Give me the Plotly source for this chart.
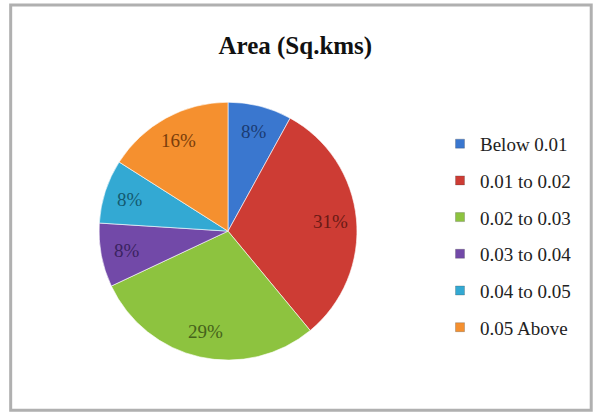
import math
import plotly.graph_objects as go

# Area classes (sq. km) and their share of the total, in percent
categories = ["Below 0.01", "0.01 to 0.02", "0.02 to 0.03", "0.03 to 0.04", "0.04 to 0.05", "0.05 Above"]
shares = [8, 31, 29, 8, 8, 16]

slice_colors = ["#3a77cf", "#cd3c34", "#8dc33f", "#7249a8", "#33a9d3", "#f5902f"]
label_colors = ["#1b3b72", "#6a1a15", "#45621b", "#3a2360", "#145a70", "#7a3d0a"]

serif = "Liberation Serif, Times New Roman, serif"
W, H = 593, 412
pie_dom = dict(x=[0.167, 0.602], y=[0.126, 0.752])

fig = go.Figure()

fig.add_trace(go.Pie(
    labels=categories,
    values=shares,
    sort=False,
    direction="clockwise",
    rotation=0,
    marker=dict(colors=slice_colors, line=dict(color="rgba(255,255,255,0.6)", width=1)),
    textinfo="none",
    showlegend=False,
    hoverinfo="label+percent",
    domain=pie_dom,
))

# Percentage labels placed along each slice's bisector, out towards the rim
cx = sum(pie_dom["x"]) / 2
cy = sum(pie_dom["y"]) / 2
radius_px = min((pie_dom["x"][1] - pie_dom["x"][0]) * W, (pie_dom["y"][1] - pie_dom["y"][0]) * H) / 2
total = sum(shares)
cum = 0
annotations = []
for v, tc in zip(shares, label_colors):
    mid = (cum + v / 2) / total * 2 * math.pi
    cum += v
    r = 0.8 * radius_px
    annotations.append(dict(
        x=cx + r * math.sin(mid) / W, y=cy + r * math.cos(mid) / H,
        xref="paper", yref="paper", showarrow=False,
        text=f"{v}%", font=dict(family=serif, size=19, color=tc),
        xanchor="center", yanchor="middle",
    ))

# Legend entries, one group each so they can be spaced apart
for name, col in zip(categories, slice_colors):
    fig.add_trace(go.Scatter(
        x=[None], y=[None], mode="markers", name=name,
        legendgroup=name,
        marker=dict(symbol="square", size=9, color=col,
                    line=dict(color="rgba(60,60,60,0.5)", width=0.5)),
    ))

fig.update_layout(
    width=W, height=H,
    margin=dict(l=0, r=0, t=0, b=0),
    paper_bgcolor="white",
    plot_bgcolor="white",
    xaxis=dict(visible=False),
    yaxis=dict(visible=False),
    title=dict(text="<b>Area (Sq.kms)</b>", x=0.498, xanchor="center",
               y=0.89, yanchor="middle",
               font=dict(family=serif, size=25, color="#111111")),
    legend=dict(
        x=0.742, y=0.697, xanchor="left", yanchor="top",
        traceorder="grouped", tracegroupgap=9,
        font=dict(family=serif, size=19, color="#222222"),
        itemwidth=30,
        bgcolor="rgba(0,0,0,0)",
    ),
    annotations=annotations,
    shapes=[dict(type="rect", xref="paper", yref="paper",
                 x0=0.018, y0=0.004, x1=0.997, y1=0.988,
                 line=dict(color="#b0b0b0", width=3))],
)

fig.write_html("out.html")
